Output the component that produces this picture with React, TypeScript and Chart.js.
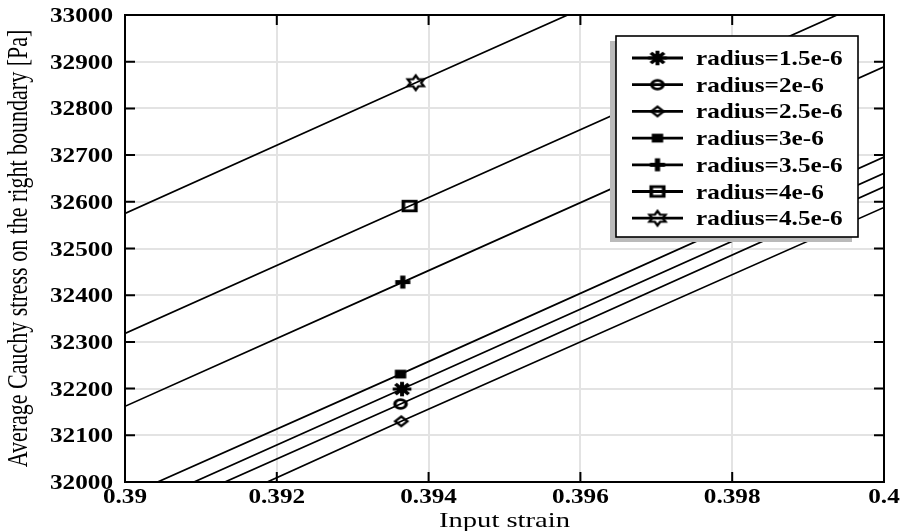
import React, { useEffect, useRef } from 'react';
import { Chart, registerables } from 'chart.js';

Chart.register(...registerables);

// ---------- data ----------
const seriesNames = [
  'radius=1.5e-6',
  'radius=2e-6',
  'radius=2.5e-6',
  'radius=3e-6',
  'radius=3.5e-6',
  'radius=4e-6',
  'radius=4.5e-6',
];
const markerKinds = ['asterisk', 'circle', 'diamond', 'filledSquare', 'plus', 'square', 'hexagram'];
const lineX = [0.39, 0.4];
const startValues = [31934, 31905, 31862, 31969, 32162, 32318, 32575];
const endValues = [32661, 32632, 32588, 32696, 32889, 33045, 33302];
const markerX = [0.39365, 0.39363, 0.39364, 0.39363, 0.39366, 0.39375, 0.39383];
const markerY = [32199, 32167, 32130, 32231, 32428, 32591, 32855];

const xTicks = [0.39, 0.392, 0.394, 0.396, 0.398, 0.4];
const xTickLabels = ['0.39', '0.392', '0.394', '0.396', '0.398', '0.4'];
const yTicks = [32000, 32100, 32200, 32300, 32400, 32500, 32600, 32700, 32800, 32900, 33000];
const yTickLabels = ['32000', '32100', '32200', '32300', '32400', '32500', '32600', '32700', '32800', '32900', '33000'];

const xTitle = 'Input strain';
const yTitle = 'Average Cauchy stress on the right boundary [Pa]';

// ---------- styling ----------
const SX = 1.2; // horizontal stretch of glyphs seen in the reference
const TICK_FONT = 'bold 21px "Liberation Serif"';
const TITLE_FONT = '22px "Liberation Serif"';
const MW = 28;
const MH = 24;

function makeMarker(kind: string): HTMLCanvasElement {
  const c = document.createElement('canvas');
  c.width = MW;
  c.height = MH;
  const g = c.getContext('2d') as CanvasRenderingContext2D;
  g.translate(MW / 2, MH / 2);
  g.scale(1.3, 1);
  g.strokeStyle = '#000';
  g.fillStyle = '#000';
  g.lineJoin = 'miter';
  switch (kind) {
    case 'asterisk': {
      const r = 7.2;
      const d = r * Math.SQRT1_2;
      g.lineWidth = 3;
      g.beginPath();
      g.moveTo(-r, 0); g.lineTo(r, 0);
      g.moveTo(0, -r); g.lineTo(0, r);
      g.moveTo(-d, -d); g.lineTo(d, d);
      g.moveTo(-d, d); g.lineTo(d, -d);
      g.stroke();
      break;
    }
    case 'circle':
      g.lineWidth = 2.7;
      g.beginPath();
      g.arc(0, 0, 4.3, 0, Math.PI * 2);
      g.stroke();
      break;
    case 'diamond':
      g.lineWidth = 2.1;
      g.beginPath();
      g.moveTo(0, -4.7); g.lineTo(4.7, 0); g.lineTo(0, 4.7); g.lineTo(-4.7, 0);
      g.closePath();
      g.stroke();
      break;
    case 'filledSquare':
      g.fillRect(-4.4, -4.4, 8.8, 8.8);
      break;
    case 'plus':
      g.lineWidth = 4;
      g.beginPath();
      g.moveTo(-5.8, 0); g.lineTo(5.8, 0);
      g.moveTo(0, -6.4); g.lineTo(0, 6.4);
      g.stroke();
      break;
    case 'square':
      g.lineWidth = 2.8;
      g.strokeRect(-4.8, -4.8, 9.6, 9.6);
      break;
    case 'hexagram': {
      const R = 7.2;
      const r = R / Math.sqrt(3);
      g.lineWidth = 2;
      g.beginPath();
      for (let k = 0; k < 12; k++) {
        const a = -Math.PI / 2 + (k * Math.PI) / 6;
        const rr = k % 2 === 0 ? R : r;
        const px = Math.cos(a) * rr;
        const py = Math.sin(a) * rr;
        if (k === 0) g.moveTo(px, py); else g.lineTo(px, py);
      }
      g.closePath();
      g.stroke();
      break;
    }
  }
  return c;
}

function stretchedText(ctx: CanvasRenderingContext2D, text: string, x: number, y: number, align: CanvasTextAlign, font: string, sx: number) {
  ctx.save();
  ctx.translate(x, y);
  ctx.scale(sx, 1);
  ctx.font = font;
  ctx.textAlign = align;
  ctx.textBaseline = 'alphabetic';
  ctx.fillStyle = '#000';
  ctx.fillText(text, 0, 0);
  ctx.restore();
}

export default function App() {
  const ref = useRef<HTMLCanvasElement | null>(null);

  useEffect(() => {
    if (!ref.current) return;
    const markers = markerKinds.map(makeMarker);

    const decor = {
      id: 'decor',
      afterDraw(chart: any) {
        const ctx: CanvasRenderingContext2D = chart.ctx;
        const a = chart.chartArea;
        const xs = chart.scales.x;
        const ys = chart.scales.y;
        ctx.save();
        // frame
        ctx.strokeStyle = '#000';
        ctx.lineWidth = 2;
        ctx.strokeRect(a.left, a.top, a.right - a.left, a.bottom - a.top);
        // inward ticks
        ctx.beginPath();
        xs.ticks.forEach((t: any) => {
          const px = xs.getPixelForValue(t.value);
          ctx.moveTo(px, a.bottom); ctx.lineTo(px, a.bottom - 10);
          ctx.moveTo(px, a.top); ctx.lineTo(px, a.top + 10);
        });
        ys.ticks.forEach((t: any) => {
          const py = ys.getPixelForValue(t.value);
          ctx.moveTo(a.left, py); ctx.lineTo(a.left + 10, py);
          ctx.moveTo(a.right, py); ctx.lineTo(a.right - 10, py);
        });
        ctx.stroke();
        // tick labels
        xs.ticks.forEach((t: any, i: number) => {
          const px = xs.getPixelForValue(t.value);
          stretchedText(ctx, xTickLabels[i], px, a.bottom + 21, 'center', TICK_FONT, SX);
        });
        ys.ticks.forEach((t: any, i: number) => {
          const py = ys.getPixelForValue(t.value);
          stretchedText(ctx, yTickLabels[i], a.left - 12, py + 7, 'right', TICK_FONT, SX);
        });
        // axis titles
        stretchedText(ctx, xTitle, (a.left + a.right) / 2, 527, 'center', TITLE_FONT, 1.3);
        ctx.save();
        ctx.translate(19, (a.top + a.bottom) / 2);
        ctx.rotate(-Math.PI / 2);
        ctx.scale(1, 1.35);
        ctx.font = TITLE_FONT;
        ctx.textAlign = 'center';
        ctx.textBaseline = 'middle';
        ctx.fillStyle = '#000';
        ctx.fillText(yTitle, 0, 0);
        ctx.restore();
        // legend
        const L = 616, T = 36, R = 858, B = 237;
        ctx.fillStyle = '#bababa';
        ctx.fillRect(L - 6, T + 5, R - L, B - T);
        ctx.fillStyle = '#fff';
        ctx.fillRect(L, T, R - L, B - T);
        ctx.strokeStyle = '#000';
        ctx.lineWidth = 1.6;
        ctx.strokeRect(L, T, R - L, B - T);
        seriesNames.forEach((name, i) => {
          const ry = 58 + i * 26.7;
          ctx.strokeStyle = '#000';
          ctx.lineWidth = 2.8;
          ctx.beginPath();
          ctx.moveTo(632, ry);
          ctx.lineTo(683, ry);
          ctx.stroke();
          ctx.drawImage(markers[i], 657.5 - MW / 2, ry - MH / 2);
          stretchedText(ctx, name, 696, ry + 7, 'left', TICK_FONT, SX);
        });
        ctx.restore();
      },
    };

    const chart = new Chart(ref.current, {
      type: 'line',
      data: {
        datasets: seriesNames.map((name, i) => ({
          label: name,
          data: [
            { x: lineX[0], y: startValues[i] },
            { x: markerX[i], y: markerY[i] },
            { x: lineX[1], y: endValues[i] },
          ],
          borderColor: '#000',
          backgroundColor: '#000',
          borderWidth: 1.7,
          tension: 0,
          pointStyle: markers[i] as any,
          pointRadius: (c: any) => (c.dataIndex === 1 ? 8 : 0),
          pointHoverRadius: (c: any) => (c.dataIndex === 1 ? 8 : 0),
        })),
      },
      options: {
        animation: false,
        responsive: false,
        events: [],
        layout: { padding: { top: 15, right: 19, left: 0, bottom: 0 } },
        plugins: {
          legend: { display: false },
          tooltip: { enabled: false },
        },
        scales: {
          x: {
            type: 'linear',
            min: 0.39,
            max: 0.4,
            afterBuildTicks: (s: any) => {
              s.ticks = xTicks.map((v) => ({ value: v }));
            },
            afterFit: (s: any) => {
              s.height = 49;
            },
            ticks: { display: false },
            grid: { color: '#e3e3e3', lineWidth: 2, drawTicks: false },
            border: { display: false },
          },
          y: {
            type: 'linear',
            min: 32000,
            max: 33000,
            afterBuildTicks: (s: any) => {
              s.ticks = yTicks.map((v) => ({ value: v }));
            },
            afterFit: (s: any) => {
              s.width = 125;
            },
            ticks: { display: false },
            grid: { color: '#e3e3e3', lineWidth: 2, drawTicks: false },
            border: { display: false },
          },
        },
      },
      plugins: [decor],
    });
    return () => chart.destroy();
  }, []);

  return (
    <div style={{ position: 'absolute', left: 0, top: 0, width: 903, height: 531, background: '#fff' }}>
      <canvas ref={ref} width={903} height={531} style={{ display: 'block' }} />
    </div>
  );
}
